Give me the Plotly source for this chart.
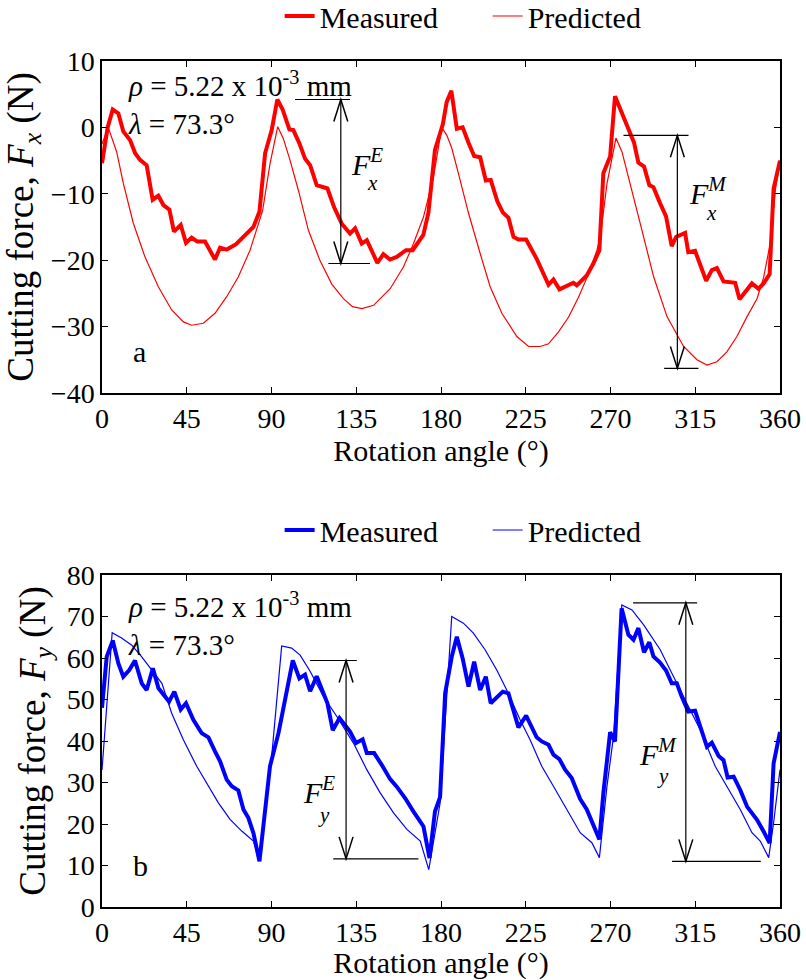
import plotly.graph_objects as go

# ---------------- data ----------------
angle_fx_meas = [0, 3, 5.7, 8.7, 11.3, 14.9, 17.6, 20.2, 23.7, 26.9, 29.9, 32.6, 35.8, 38.2, 41.8, 44.6,
                 47.6, 50.6, 54.7, 60.0, 62.7, 66.2, 71.2, 75.1, 80.4, 83.6, 86.6, 90.1, 93.1, 95.9,
                 99.5, 101.6, 104.8, 107.8, 110.5, 114.0, 119.7, 123.2, 127.3, 131.7, 134.4, 137.9,
                 140.6, 146.2, 149.4, 152.9, 156.5, 161.4, 165.0, 170.6, 173.3, 176.8, 181.0, 183.0,
                 185.5, 188.4, 191.5, 194.6, 197.6, 200.8, 203.8, 206.4, 210.0, 212.8, 215.8, 218.5,
                 221.1, 225.2, 230.8, 237.1, 239.7, 242.9, 246.8, 250.3, 252.1, 257.4, 260.9, 264.1,
                 266.2, 269.8, 272.4, 276.5, 280.4, 282.5, 284.8, 287.8, 290.6, 292.8, 296.3, 299.5,
                 302.5, 304.8, 309.6, 311.3, 314.9, 317.6, 320.8, 323.8, 326.5, 330.0, 336.2, 338.5,
                 341.5, 345.1, 348.6, 351.3, 354.5, 356.6, 360]
fx_meas = [-5.4, 0.0, 2.7, 2.1, -0.6, -1.9, -3.9, -4.9, -5.7, -10.9, -10.3, -11.7, -12.4, -15.7, -14.7, -17.4,
           -16.6, -17.2, -17.2, -19.9, -18.1, -18.4, -17.6, -16.5, -15.0, -12.7, -3.9, -0.4, 4.2, 2.7,
           -0.3, -0.4, -2.4, -4.7, -5.7, -8.7, -9.2, -12.0, -14.5, -16.0, -15.2, -17.5,
           -17.0, -20.4, -19.1, -19.9, -19.5, -18.5, -18.5, -16.2, -12.9, -3.4, 0.5, 3.8,
           5.5, -0.2, 0.0, -2.3, -4.3, -4.5, -8.0, -7.9, -11.2, -12.8, -13.6, -16.5,
           -16.9, -16.9, -19.8, -23.7, -22.9, -24.4, -23.8, -23.4, -23.8, -22.3, -20.5, -18.5,
           -6.9, -4.4, 4.7, 1.8, -0.8, -2.3, -5.3, -5.9, -8.7, -9.0, -11.4, -13.4,
           -17.9, -16.5, -15.9, -18.8, -18.6, -20.5, -23.1, -21.5, -21.2, -23.2, -23.4, -25.9,
           -24.7, -23.5, -24.3, -23.5, -22.1, -9.2, -5.0]

angle_fx_pred = [0, 3.3, 7.8, 11.3, 16.6, 22.8, 29.9, 37.0, 43.2, 47.6, 53.8, 60.0, 66.2, 72.4, 78.6,
                 82.1, 85.3, 89.2, 93.3, 96.3, 99.9, 104.3, 109.6, 115.8, 122.0, 128.2, 133.0, 138.0,
                 144.2, 153.0, 160.1, 165.4, 170.7, 176.0, 180.4, 183.1, 185.7, 189.2, 194.6, 200.8,
                 206.1, 212.3, 220.3, 226.5, 232.7, 237.1, 242.4, 247.7, 253.0, 258.3, 262.8, 264.6,
                 268.1, 271.6, 272.9, 276.1, 280.5, 285.8, 292.9, 300.0, 308.8, 315.9, 321.2, 326.5,
                 331.8, 337.1, 342.5, 347.8, 351.3, 354.8, 357.5, 360]
fx_pred = [-2.5, 0.0, -3.7, -8.4, -14.4, -19.5, -24.0, -27.5, -29.3, -29.8, -29.5, -28.0, -25.5, -22.5, -18.5,
           -15.5, -12.5, -5.5, 0.1, -1.7, -5.0, -9.5, -15.5, -20.1, -23.6, -25.8, -27.0, -27.3,
           -26.8, -24.3, -21.0, -17.5, -13.5, -7.5, 0.0, -1.2, -3.1, -6.9, -12.9, -19.0,
           -24.0, -28.0, -31.5, -33.0, -33.0, -32.6, -30.8, -28.6, -25.6, -22.1, -18.5, -16.5,
           -8.5, -3.5, -1.6, -3.7, -8.5, -14.5, -22.5, -28.5, -33.0, -35.0, -35.8, -35.3,
           -33.8, -31.5, -28.5, -25.8, -22.6, -17.5, -9.5, -5.0]

angle_fy_meas = [0, 2.5, 5.7, 8.7, 11.3, 14.5, 17.5, 21.1, 23.7, 27.0, 30.0, 35.6, 38.4, 41.8, 44.6, 48.5,
                 52.9, 56.5, 60.0, 62.7, 66.2, 68.9, 72.4, 75.1, 77.7, 80.4, 83.6, 86.6, 89.2, 93.7,
                 98.1, 101.3, 104.8, 107.8, 110.5, 114.0, 119.7, 122.5, 126.1, 131.7, 134.9, 138.4,
                 140.6, 144.5, 148.6, 153.0, 156.5, 161.0, 165.4, 170.7, 173.9, 176.8, 179.5, 182.2,
                 185.7, 188.4, 191.5, 194.6, 197.6, 200.8, 203.8, 206.4, 212.8, 215.8, 221.1, 225.2,
                 230.8, 233.5, 237.1, 239.7, 242.9, 245.9, 249.4, 253.9, 257.4, 260.9, 264.1, 266.2,
                 269.8, 272.4, 275.9, 279.5, 282.2, 284.8, 287.8, 290.6, 292.8, 296.3, 299.5, 302.5,
                 305.2, 307.8, 311.3, 314.9, 317.6, 321.2, 323.8, 327.4, 330.0, 332.2, 335.4, 338.9,
                 342.5, 347.8, 351.3, 354.5, 356.6, 360]
fy_meas = [48.0, 60.3, 64.2, 58.7, 55.5, 57.1, 59.4, 53.9, 52.3, 57.5, 52.7, 49.5, 51.9, 47.6, 49.1, 45.1,
           41.9, 40.9, 37.5, 35.1, 30.7, 29.1, 28.1, 23.5, 21.5, 17.8, 11.0, 23.5, 33.9, 41.9,
           51.6, 59.4, 55.1, 56.0, 52.0, 55.6, 49.1, 42.6, 45.5, 42.3, 39.5, 40.4,
           37.1, 37.1, 34.2, 30.8, 29.0, 26.2, 23.0, 19.4, 11.8, 23.0, 26.5, 51.5,
           60.3, 65.1, 59.9, 53.1, 59.1, 52.3, 55.5, 49.1, 51.9, 51.5, 43.3, 46.1,
           40.9, 39.9, 39.1, 36.7, 35.6, 33.1, 31.1, 26.0, 23.5, 19.9, 16.3, 27.4,
           42.1, 39.9, 72.0, 65.6, 64.4, 67.2, 61.4, 63.8, 60.4, 58.9, 57.0, 53.9,
           53.9, 50.7, 47.1, 47.3, 43.5, 38.6, 39.6, 36.4, 35.4, 31.2, 31.4, 28.2,
           24.2, 21.0, 18.2, 15.4, 34.6, 42.2]

angle_fy_pred = [0, 5.4, 10.4, 15.8, 21.1, 26.4, 31.8, 37.0, 43.2, 50.3, 56.5, 61.8, 68.0, 74.2, 80.4,
                 83.6, 90.1, 95.4, 100.7, 105.2, 110.5, 117.6, 124.7, 133.5, 140.6, 147.7, 154.8,
                 161.9, 169.0, 173.5, 179.5, 185.7, 191.9, 197.2, 203.4, 209.6, 214.9, 222.0, 227.3,
                 233.5, 239.7, 245.9, 253.9, 260.1, 264.1, 268.1, 271.6, 276.0, 281.4, 287.6, 296.4,
                 303.5, 310.6, 317.6, 325.6, 332.7, 338.9, 345.1, 349.5, 354.0, 356.6, 360]
fy_pred = [33.0, 66.1, 64.8, 63.1, 60.3, 57.1, 53.9, 46.7, 40.3, 33.9, 29.1, 25.1, 21.1, 18.3, 15.9,
           11.1, 36.3, 62.9, 62.4, 60.7, 56.8, 50.7, 45.9, 39.5, 33.1, 27.5, 22.7,
           18.7, 15.9, 9.0, 25.0, 70.0, 68.4, 66.0, 62.0, 57.1, 52.3, 45.1, 40.3,
           33.9, 29.1, 24.3, 17.9, 15.5, 11.9, 29.0, 41.1, 72.8, 71.6, 68.0, 62.0,
           55.5, 49.1, 42.7, 33.9, 28.3, 23.5, 17.9, 15.9, 11.9, 20.3, 33.1]

x_ticks = [0, 45, 90, 135, 180, 225, 270, 315, 360]

# ---------------- figure ----------------
FONT = "Liberation Serif"
RED = "#ff0000"
BLUE = "#0000ff"

fig = go.Figure()
fig.add_trace(go.Scatter(x=angle_fx_meas, y=fx_meas, mode="lines", name="Measured",
                         line=dict(color=RED, width=4), xaxis="x", yaxis="y", legend="legend"))
fig.add_trace(go.Scatter(x=angle_fx_pred, y=fx_pred, mode="lines", name="Predicted",
                         line=dict(color=RED, width=1.2), xaxis="x", yaxis="y", legend="legend"))
fig.add_trace(go.Scatter(x=angle_fy_meas, y=fy_meas, mode="lines", name="Measured",
                         line=dict(color=BLUE, width=4), xaxis="x2", yaxis="y2", legend="legend2"))
fig.add_trace(go.Scatter(x=angle_fy_pred, y=fy_pred, mode="lines", name="Predicted",
                         line=dict(color=BLUE, width=1.2), xaxis="x2", yaxis="y2", legend="legend2"))

axis_common = dict(showline=True, linecolor="black", linewidth=1.5, mirror="ticks",
                   ticks="inside", ticklen=6, tickwidth=1.2, tickcolor="black",
                   showgrid=False, zeroline=False,
                   tickfont=dict(family=FONT, size=28, color="black"))

xtitle = dict(text="Rotation angle (°)", font=dict(family=FONT, size=30, color="black"), standoff=0)
legend_common = dict(orientation="h", x=0.262, xanchor="left", yanchor="middle",
                     entrywidth=163, entrywidthmode="pixels",
                     font=dict(family=FONT, size=30, color="black"), bgcolor="rgba(0,0,0,0)")

fig.update_layout(
    width=806, height=980,
    margin=dict(l=102, r=26, t=61, b=73, autoexpand=False),
    paper_bgcolor="white", plot_bgcolor="white",
    font=dict(family=FONT, color="black"),
    xaxis=dict(domain=[0, 1], range=[0, 360], tickvals=x_ticks, anchor="y",
               title=xtitle, **axis_common),
    yaxis=dict(domain=[0.6076, 1], range=[-40, 10], dtick=10, anchor="x",
               title=dict(text="Cutting force, <i>F</i><sub><i>x</i></sub> (N)",
                          font=dict(family=FONT, size=37, color="black"), standoff=10),
               **axis_common),
    xaxis2=dict(domain=[0, 1], range=[0, 360], tickvals=x_ticks, anchor="y2",
                title=xtitle, **axis_common),
    yaxis2=dict(domain=[0, 0.3924], range=[0, 80], dtick=10, anchor="x2",
                title=dict(text="Cutting force, <i>F</i><sub><i>y</i></sub> (N)",
                           font=dict(family=FONT, size=37, color="black"), standoff=10),
                **axis_common),
    legend=dict(y=1.0532, **legend_common),
    legend2=dict(y=0.4456, **legend_common),
)

annotations = []
shapes = []


def text(x, y, s, size, xref, yref, xanchor="left"):
    annotations.append(dict(x=x, y=y, xref=xref, yref=yref, text=s, showarrow=False,
                            xanchor=xanchor, yanchor="middle", align="left", borderpad=0,
                            font=dict(family=FONT, size=size, color="black")))


def seg(x0, y0, x1, y1, xref, yref, w=1.2):
    shapes.append(dict(type="line", x0=x0, y0=y0, x1=x1, y1=y1, xref=xref, yref=yref,
                       line=dict(color="black", width=w), layer="above"))


def dim_arrow(xa, ytop, ybot, top_span, bot_span, dx, dy, xref, yref):
    seg(xa, ytop, xa, ybot, xref, yref)
    seg(top_span[0], ytop, top_span[1], ytop, xref, yref)
    seg(bot_span[0], ybot, bot_span[1], ybot, xref, yref)
    # open V heads
    shapes.append(dict(type="path", xref=xref, yref=yref, layer="above",
                       path=f"M {xa-dx},{ytop-dy} L {xa},{ytop} L {xa+dx},{ytop-dy}",
                       line=dict(color="black", width=1.5)))
    shapes.append(dict(type="path", xref=xref, yref=yref, layer="above",
                       path=f"M {xa-dx},{ybot+dy} L {xa},{ybot} L {xa+dx},{ybot+dy}",
                       line=dict(color="black", width=1.5)))


params = "<i>ρ</i> = 5.22 x 10<sup>-3</sup> mm<br><i>λ</i> = 73.3°"

# top panel
text(13.3, 3.7, params, 29, "x", "y")
text(16, -33.8, "a", 30, "x", "y")
dim_arrow(126.8, 4.2, -20.5, (102.5, 131.7), (120.2, 142.3), 3.7, 3.3, "x", "y")
dim_arrow(305.5, -1.2, -36.3, (276.9, 311.4), (298.5, 316.7), 3.7, 3.3, "x", "y")
text(131.5, -5.2, "<i>F</i><sup><i>E</i></sup>", 30, "x", "y")
text(143.6, -8.4, "<i>x</i>", 21, "x", "y", "center")
text(311.0, -9.6, "<i>F</i><sup><i>M</i></sup>", 30, "x", "y")
text(323.6, -12.9, "<i>x</i>", 21, "x", "y", "center")

# bottom panel
text(13.3, 68.3, params, 29, "x2", "y2")
text(16, 10.1, "b", 30, "x2", "y2")
dim_arrow(129.6, 59.4, 11.6, (110.5, 135.3), (122.8, 168.0), 3.7, 5.3, "x2", "y2")
dim_arrow(310.0, 73.3, 11.0, (282.0, 316.0), (302.7, 349.8), 3.7, 5.3, "x2", "y2")
text(106.0, 28.3, "<i>F</i><sup><i>E</i></sup>", 30, "x2", "y2")
text(118.0, 22.2, "<i>y</i>", 21, "x2", "y2", "center")
text(284.5, 37.4, "<i>F</i><sup><i>M</i></sup>", 30, "x2", "y2")
text(298.0, 31.6, "<i>y</i>", 21, "x2", "y2", "center")

fig.update_layout(annotations=annotations, shapes=shapes)

fig.write_html("out.html")
